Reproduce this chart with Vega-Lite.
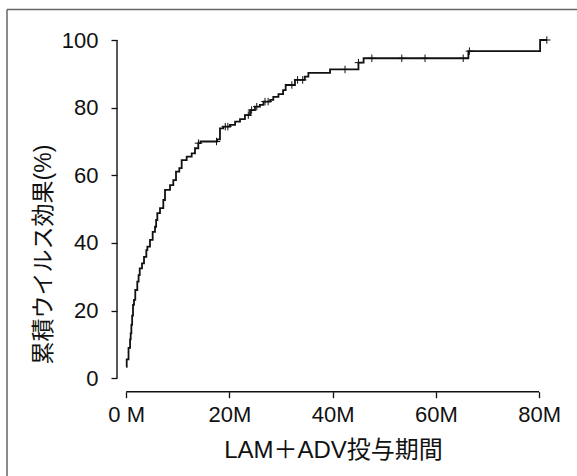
{
  "$schema": "https://vega.github.io/schema/vega-lite/v6.json",
  "width": 577,
  "height": 476,
  "autosize": {"type": "none"},
  "padding": 0,
  "background": "white",
  "config": {
    "view": {"stroke": null},
    "axis": {
      "grid": false,
      "domain": false,
      "ticks": true,
      "tickSize": 6,
      "tickColor": "#111",
      "tickWidth": 1.3,
      "labelFont": "Liberation Sans",
      "labelFontSize": 22,
      "labelColor": "#111",
      "titleFont": "Liberation Sans, Noto Sans CJK JP",
      "titleFontSize": 24,
      "titleFontWeight": "normal",
      "titleColor": "#111"
    }
  },
  "datasets": {
    "curve": [
      {"m": 0, "v": 3.4}, {"m": 0.1, "v": 5.6}, {"m": 0.45, "v": 9.0}, {"m": 0.75, "v": 11.5},
      {"m": 0.87, "v": 13.3}, {"m": 1.0, "v": 15.8}, {"m": 1.15, "v": 18.5}, {"m": 1.32, "v": 21.7},
      {"m": 1.51, "v": 23.2}, {"m": 1.76, "v": 26.1}, {"m": 2.15, "v": 28.6}, {"m": 2.4, "v": 30.5},
      {"m": 2.62, "v": 32.5}, {"m": 3.06, "v": 34.0}, {"m": 3.45, "v": 35.9}, {"m": 3.9, "v": 37.9},
      {"m": 4.1, "v": 38.9}, {"m": 4.61, "v": 40.9}, {"m": 5.13, "v": 43.3}, {"m": 5.58, "v": 44.8},
      {"m": 5.8, "v": 46.8}, {"m": 6.03, "v": 48.8}, {"m": 6.55, "v": 50.3}, {"m": 7.19, "v": 52.7},
      {"m": 7.52, "v": 55.7}, {"m": 8.49, "v": 57.1}, {"m": 9.13, "v": 58.6}, {"m": 9.65, "v": 61.1},
      {"m": 10.29, "v": 62.1}, {"m": 10.75, "v": 64.5}, {"m": 11.72, "v": 65.5}, {"m": 12.69, "v": 66.5},
      {"m": 13.33, "v": 68.0}, {"m": 13.97, "v": 69.5}, {"m": 14.4, "v": 70.0}, {"m": 17.6, "v": 70.6},
      {"m": 18.17, "v": 73.9}, {"m": 18.8, "v": 74.4}, {"m": 20.1, "v": 74.9}, {"m": 21.1, "v": 75.9},
      {"m": 22.05, "v": 76.6}, {"m": 23.0, "v": 77.8}, {"m": 24.0, "v": 79.3}, {"m": 24.95, "v": 80.3},
      {"m": 25.9, "v": 80.8}, {"m": 26.6, "v": 81.8}, {"m": 27.9, "v": 82.3}, {"m": 28.5, "v": 83.2},
      {"m": 29.5, "v": 84.0}, {"m": 30.4, "v": 85.2}, {"m": 30.9, "v": 86.7}, {"m": 32.7, "v": 88.2},
      {"m": 34.6, "v": 89.2}, {"m": 35.3, "v": 90.3}, {"m": 39.5, "v": 91.3}, {"m": 45.0, "v": 93.3},
      {"m": 46.0, "v": 94.6}, {"m": 66.3, "v": 96.7}, {"m": 80.2, "v": 100}, {"m": 81.5, "v": 100}
    ],
    "censor": [
      {"m": 14.0, "v": 69.5}, {"m": 17.5, "v": 70.0}, {"m": 19.2, "v": 74.4}, {"m": 19.7, "v": 74.4},
      {"m": 23.66, "v": 77.8}, {"m": 24.3, "v": 79.3}, {"m": 25.3, "v": 80.3}, {"m": 26.9, "v": 81.8},
      {"m": 27.5, "v": 81.8}, {"m": 32.1, "v": 86.7}, {"m": 33.2, "v": 88.2}, {"m": 34.2, "v": 88.2},
      {"m": 42.4, "v": 91.3}, {"m": 45.0, "v": 93.3}, {"m": 47.6, "v": 94.6}, {"m": 53.4, "v": 94.6},
      {"m": 57.9, "v": 94.6}, {"m": 65.3, "v": 94.6}, {"m": 66.5, "v": 96.7}, {"m": 81.5, "v": 100}
    ],
    "axislines": [
      {"m": -1.78, "m2": -1.78, "v": 0, "v2": 100},
      {"m": 0, "m2": 80, "v": -3.96, "v2": -3.96}
    ],
    "frame": [
      {"m": -23.096, "m2": -23.096, "v": -28.88, "v2": 109.015},
      {"m": -23.096, "m2": 87.348, "v": 109.015, "v2": 109.015}
    ]
  },
  "encoding": {
    "x": {
      "field": "m",
      "type": "quantitative",
      "scale": {"domain": [-24.453, 87.348], "nice": false, "zero": false},
      "axis": {
        "offset": -84.3,
        "values": [0, 20, 40, 60, 80],
        "labelExpr": "datum.value == 0 ? '0 M' : datum.value + 'M'",
        "labelPadding": 7,
        "title": "LAM＋ADV投与期間",
        "titleX": 333,
        "titleY": 59,
        "titleBaseline": "middle",
        "titleAnchor": "middle"
      }
    },
    "y": {
      "field": "v",
      "type": "quantitative",
      "scale": {"domain": [-28.88, 111.824], "nice": false, "zero": false},
      "axis": {
        "offset": -117,
        "values": [0, 20, 40, 60, 80, 100],
        "labelPadding": 13,
        "title": "累積ウイルス効果(%)",
        "titleFontSize": 23,
        "titleX": -74,
        "titleY": 254,
        "titleAngle": -90,
        "titleBaseline": "middle",
        "titleAlign": "center"
      }
    }
  },
  "layer": [
    {
      "data": {"name": "frame"},
      "mark": {"type": "rule", "color": "#666", "strokeWidth": 1.5},
      "encoding": {"x2": {"field": "m2"}, "y2": {"field": "v2"}}
    },
    {
      "data": {"name": "axislines"},
      "mark": {"type": "rule", "color": "#111", "strokeWidth": 1.4},
      "encoding": {"x2": {"field": "m2"}, "y2": {"field": "v2"}}
    },
    {
      "data": {"name": "curve"},
      "mark": {"type": "line", "interpolate": "step-after", "color": "#111", "strokeWidth": 1.8},
      "encoding": {}
    },
    {
      "data": {"name": "censor"},
      "mark": {"type": "point", "shape": "M-1,0L1,0M0,-1L0,1", "size": 56, "filled": false, "stroke": "#111", "strokeWidth": 1, "opacity": 1},
      "encoding": {}
    }
  ]
}
